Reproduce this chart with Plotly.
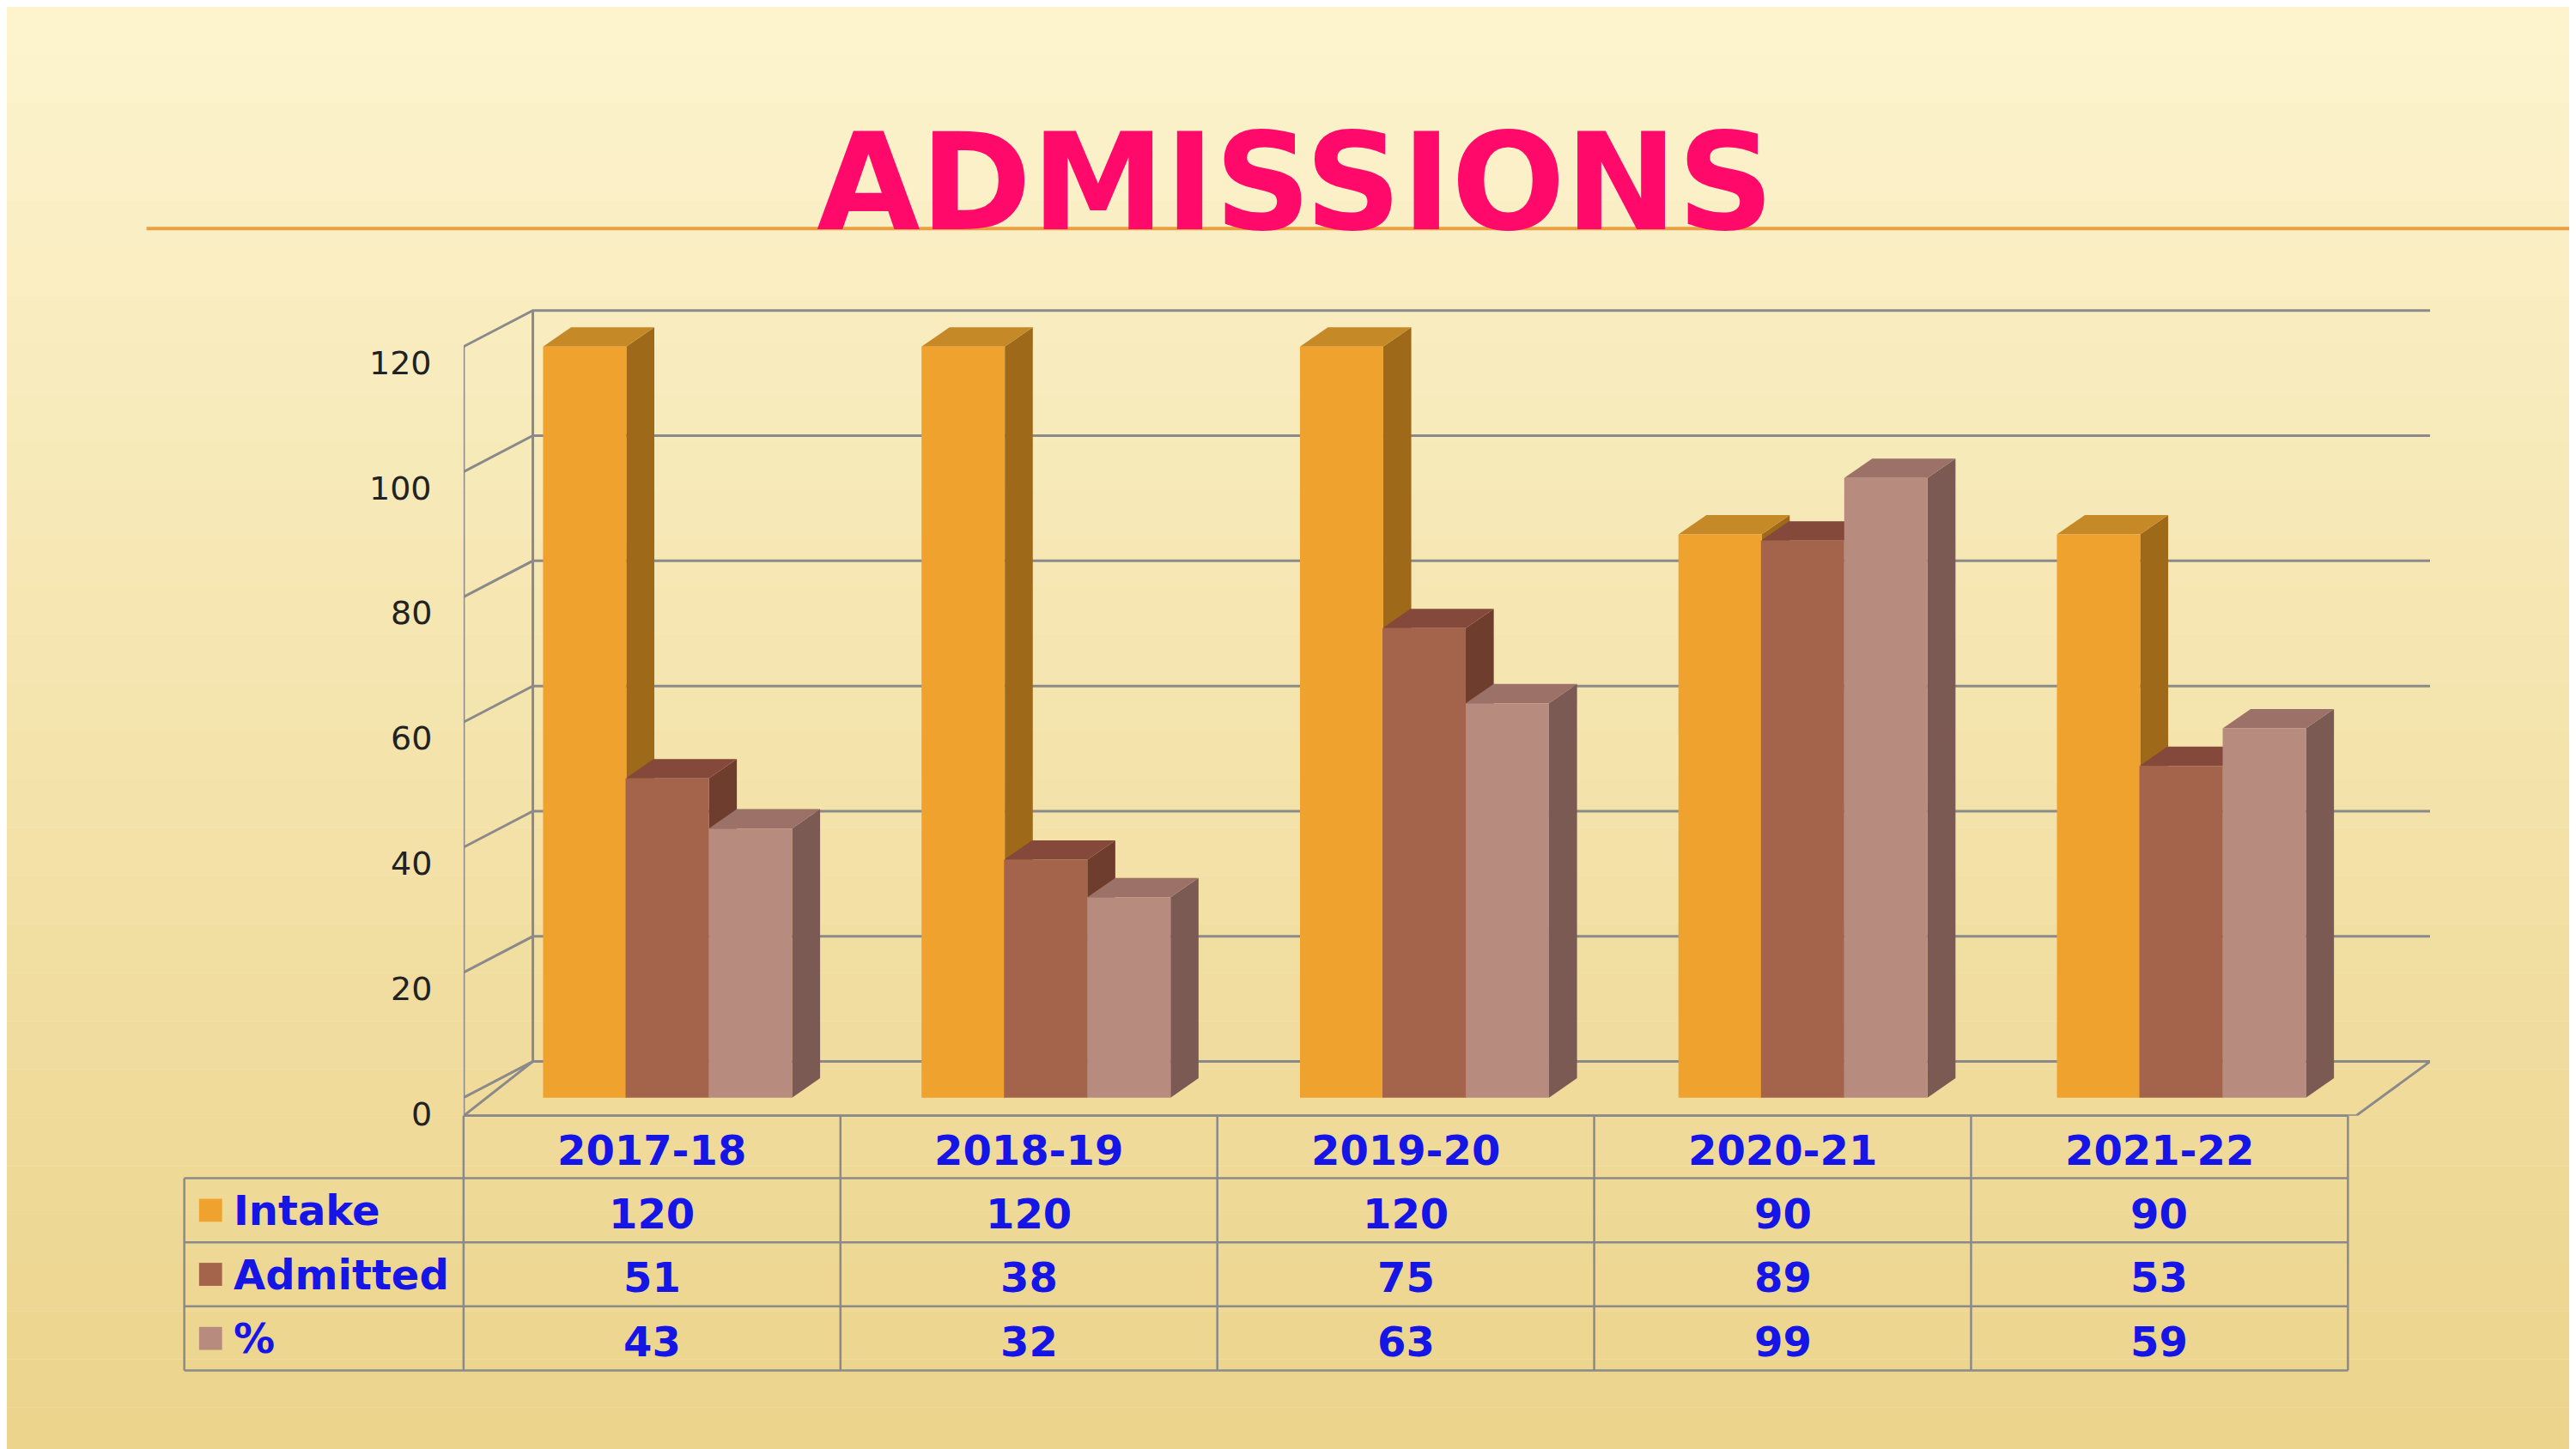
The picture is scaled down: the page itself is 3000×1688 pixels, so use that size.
import plotly.graph_objects as go

years = ["2017-18", "2018-19", "2019-20", "2020-21", "2021-22"]
series = ["Intake", "Admitted", "%"]
intake = [120, 120, 120, 90, 90]
admitted = [51, 38, 75, 89, 53]
percent = [43, 32, 63, 99, 59]
yticks = [0, 20, 40, 60, 80, 100, 120]

values = [intake, admitted, percent]
front = ["#f0a22e", "#a4634b", "#b88b7f"]
side = ["#9e6a1a", "#6f3d2d", "#7a5a53"]
top = ["#c58a27", "#84493a", "#9b7168"]
offsets = [-0.18, 0.038, 0.258]
W = 0.22
DX, DY = 0.074, 3.1        # bar depth
GX, GY = 0.183, 5.77       # wall depth
XMAX = 4.696

W0, H0 = 1568, 882
def px(x): return x / W0
def py(y): return 1 - y / H0

fig = go.Figure()
shapes = []
annotations = []

c1, c2 = (253, 244, 206), (236, 212, 140)
N = 30
for i in range(N):
    t = i / (N - 1)
    col = tuple(int(c1[k] + (c2[k] - c1[k]) * t) for k in range(3))
    shapes.append(dict(type="rect", xref="paper", yref="paper", x0=0, x1=1,
                       y0=1 - (i + 1) / N, y1=1 - i / N, fillcolor="rgb(%d,%d,%d)" % col,
                       line=dict(width=0), layer="below"))

shapes.append(dict(type="line", xref="paper", yref="paper", x0=px(85), x1=1, y0=py(135), y1=py(135),
                   line=dict(color="#e8a040", width=4), layer="below"))

gray = dict(color="#8a8a8a", width=3)
def add(d):
    d["layer"] = "below"
    shapes.append(d)
for v in yticks:
    add(dict(type="path", xref="x", yref="y",
             path=f"M -0.5 {v} L {-0.5+GX} {v+GY} L {XMAX} {v+GY}", line=gray))
add(dict(type="line", xref="x", yref="y", x0=-0.5, x1=-0.5, y0=-2.9, y1=120, line=gray))
add(dict(type="line", xref="x", yref="y", x0=-0.5+GX, x1=-0.5+GX, y0=GY, y1=120 + GY, line=gray))
add(dict(type="path", xref="x", yref="y",
         path=f"M -0.5 -2.9 L 4.5 -2.9 L {XMAX} {GY}", line=gray))
add(dict(type="line", xref="x", yref="y", x0=-0.5, x1=-0.5+GX, y0=-2.9, y1=GY, line=gray))

for s in range(3):
    xs = [i + offsets[s] for i in range(5)]
    fig.add_trace(go.Bar(x=xs, y=values[s], width=W, marker=dict(color=front[s], line=dict(width=0)),
                         name=series[s], showlegend=False, hoverinfo="skip"))
    for x, v in zip(xs, values[s]):
        r = x + W / 2; l = x - W / 2
        add(dict(type="path", xref="x", yref="y", fillcolor=side[s], line=dict(width=0),
                 path=f"M {r} 0 L {r+DX} {DY} L {r+DX} {v+DY} L {r} {v} Z"))
        add(dict(type="path", xref="x", yref="y", fillcolor=top[s], line=dict(width=0),
                 path=f"M {l} {v} L {r} {v} L {r+DX} {v+DY} L {l+DX} {v+DY} Z"))

for v in yticks:
    annotations.append(dict(xref="paper", yref="y", x=px(260), y=v, yshift=-19, text=str(v),
                            showarrow=False, xanchor="right", yanchor="middle",
                            font=dict(size=38, color="#222", family="DejaVu Sans")))

tc = dict(color="#8a8a8a", width=2.5)
colx = [278 + 229.4 * i for i in range(6)]
rowy = [675, 713, 752, 791, 830]
for y in rowy:
    x0 = 278 if y == 675 else 108
    shapes.append(dict(type="line", xref="paper", yref="paper", x0=px(x0), x1=px(1425), y0=py(y), y1=py(y), line=tc))
shapes.append(dict(type="line", xref="paper", yref="paper", x0=px(108), x1=px(108), y0=py(713), y1=py(830), line=tc))
for x in colx:
    shapes.append(dict(type="line", xref="paper", yref="paper", x0=px(x), x1=px(x), y0=py(675), y1=py(830), line=tc))
blue = dict(size=48, color="#1515e6", family="DejaVu Sans")
for i, yr in enumerate(years):
    cx = (colx[i] + colx[i + 1]) / 2
    annotations.append(dict(xref="paper", yref="paper", x=px(cx), y=py(696), text=f"<b>{yr}</b>",
                            showarrow=False, xanchor="center", yanchor="middle", font=blue))
    for s in range(3):
        annotations.append(dict(xref="paper", yref="paper", x=px(cx), y=py((rowy[s + 1] + rowy[s + 2]) / 2 + 2),
                                text=f"<b>{values[s][i]}</b>", showarrow=False,
                                xanchor="center", yanchor="middle", font=blue))
for s in range(3):
    yc = (rowy[s + 1] + rowy[s + 2]) / 2
    shapes.append(dict(type="rect", xref="paper", yref="paper", x0=px(117), x1=px(131), y0=py(yc + 7), y1=py(yc - 7),
                       fillcolor=front[s], line=dict(width=0)))
    annotations.append(dict(xref="paper", yref="paper", x=px(137), y=py(yc), text=f"<b>{series[s]}</b>",
                            showarrow=False, xanchor="left", yanchor="middle", font=blue))

annotations.append(dict(xref="paper", yref="paper", x=px(784), y=py(107), text="<b>ADMISSIONS</b>",
                        showarrow=False, xanchor="center", yanchor="middle",
                        font=dict(size=156, color="#ff0a6a", family="DejaVu Sans")))

fig.update_layout(
    width=3000, height=1688, margin=dict(l=0, r=0, t=0, b=0),
    paper_bgcolor="#fbecbd", plot_bgcolor="rgba(0,0,0,0)",
    barmode="overlay", shapes=shapes, annotations=annotations,
    xaxis=dict(domain=[px(278), px(1475)], range=[-0.5, XMAX], visible=False, fixedrange=True),
    yaxis=dict(domain=[py(675), py(176.3)], range=[-2.9, 128], visible=False, fixedrange=True),
)
fig.write_html("out.html")
